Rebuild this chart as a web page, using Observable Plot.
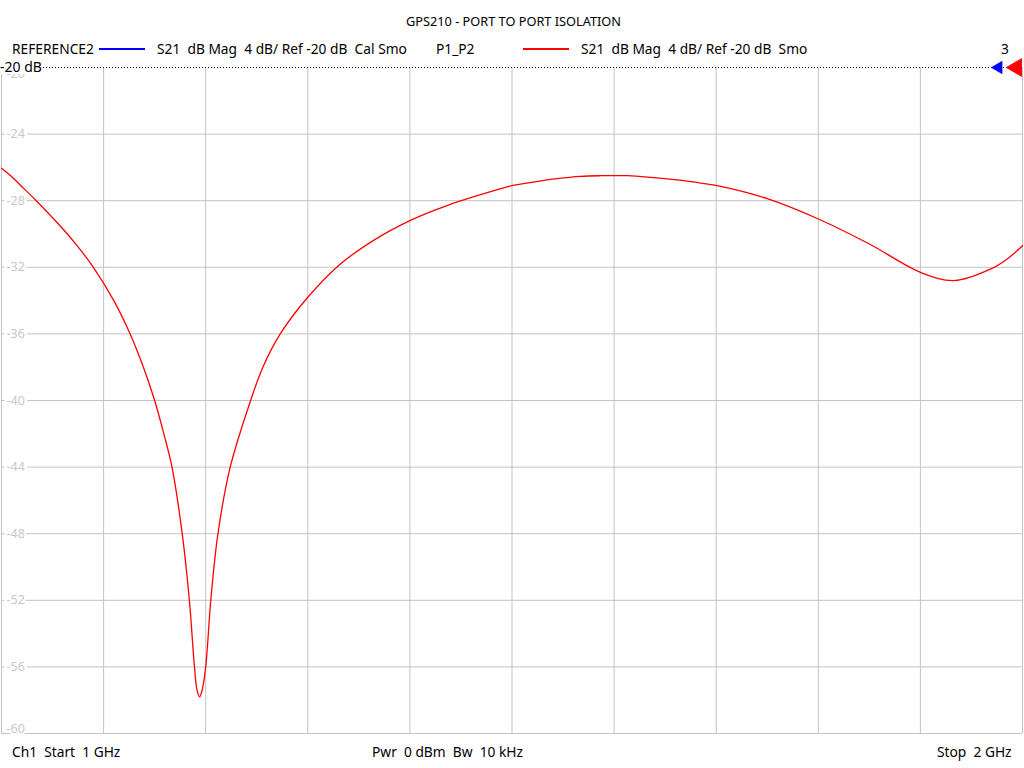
<!DOCTYPE html>
<html>
<head>
<meta charset="utf-8">
<script src="https://cdn.jsdelivr.net/npm/d3@7"></script>
<script src="https://cdn.jsdelivr.net/npm/@observablehq/plot@0.6"></script>
<style>
  body { margin: 0; background: #fff; }
  #wrap { position: relative; width: 1024px; height: 768px; overflow: hidden; font-family: "Noto Sans", "Open Sans", sans-serif; }
  #wrap svg { position: absolute; left: 0; top: 0; }
  .t { position: absolute; white-space: pre; font-size: 13.75px; line-height: 1; color: #000; }
  .leg { position: absolute; height: 2px; width: 46px; }
</style>
</head>
<body>
<div id="wrap"></div>
<script>
// Frequency (GHz) and S21 magnitude (dB)
const freqGHz = [1.000, 1.009, 1.019, 1.034, 1.058, 1.074, 1.090, 1.110, 1.126, 1.139, 1.150, 1.159, 1.167, 1.177, 1.184, 1.189, 1.1915, 1.194, 1.1965, 1.200, 1.205, 1.212, 1.224, 1.244, 1.256, 1.273, 1.300, 1.330, 1.364, 1.400, 1.437, 1.489, 1.501, 1.521, 1.544, 1.567, 1.587, 1.613, 1.636, 1.659, 1.685, 1.701, 1.750, 1.800, 1.850, 1.900, 1.933, 1.969, 1.985, 2.000];
const s21dB   = [-26.05, -26.5, -27.1, -28.0, -29.55, -30.7, -32.0, -34.0, -36.0, -38.0, -40.0, -42.0, -44.0, -48.0, -52.0, -56.0, -57.4, -57.8, -57.4, -56.0, -52.0, -48.0, -44.0, -40.0, -38.0, -36.0, -33.8, -31.9, -30.4, -29.2, -28.28, -27.28, -27.08, -26.88, -26.68, -26.54, -26.5, -26.5, -26.6, -26.74, -26.94, -27.1, -27.88, -29.1, -30.6, -32.3, -32.8, -32.1, -31.5, -30.7];

const xGrid = [1.0, 1.1, 1.2, 1.3, 1.4, 1.5, 1.6, 1.7, 1.8, 1.9, 2.0];
const yGrid = [-24, -28, -32, -36, -40, -44, -48, -52, -56, -60];
const yLabelsMid = [-24, -28, -32, -36, -40, -44, -48, -52, -56];
const yLabelTop = [-20];
const yLabelBottom = [-60];
const refLevel = [-20];

const trace = freqGHz.map((f, i) => ({f, db: s21dB[i]}));
const gridCol = "#c3c3c3";
const labCol = "#c8c8c8";

const chart = Plot.plot({
  width: 1024,
  height: 768,
  marginLeft: 1,
  marginRight: 2,
  marginTop: 67,
  marginBottom: 35,
  x: {domain: [1, 2], axis: null},
  y: {domain: [-60, -20], axis: null},
  style: {background: "#fff", overflow: "visible", fontFamily: "Noto Sans, sans-serif"},
  marks: [
    Plot.ruleX(xGrid, {x: d => d, stroke: gridCol, strokeWidth: 1}),
    Plot.ruleY(yGrid, {y: d => d, stroke: gridCol, strokeWidth: 1}),
    Plot.text(yLabelsMid, {y: d => d, x: 1, dx: 5, text: d => String(d), textAnchor: "start", fill: labCol, stroke: "#fff", strokeWidth: 5, fontSize: 12.5}),
    Plot.text(yLabelTop, {y: d => d, x: 1, dx: 5, dy: 2, lineAnchor: "top", text: d => String(d), textAnchor: "start", fill: labCol, fontSize: 12.5}),
    Plot.text(yLabelBottom, {y: d => d, x: 1, dx: 5, dy: -1, lineAnchor: "bottom", text: d => String(d), textAnchor: "start", fill: labCol, stroke: "#fff", strokeWidth: 4, fontSize: 12.5}),
    Plot.ruleY(refLevel, {y: d => d, stroke: "#000", strokeWidth: 1, strokeDasharray: "1,2"}),
    Plot.line(trace, {x: "f", y: "db", stroke: "#ff0000", strokeWidth: 1.3, curve: "catmull-rom"}),
    Plot.dot(refLevel, {y: d => d, frameAnchor: "right", dx: -24, symbol: "triangle", rotate: -90, r: 5, fill: "#0000ff", stroke: "none"}),
    Plot.dot(refLevel, {y: d => d, frameAnchor: "right", dx: -6, symbol: "triangle", rotate: -90, r: 7, fill: "#ff0000", stroke: "none"})
  ]
});

const wrap = document.getElementById("wrap");
wrap.appendChild(chart);

function addText(txt, left, top, extra) {
  const d = document.createElement("div");
  d.className = "t";
  d.textContent = txt;
  d.style.left = left + "px";
  d.style.top = top + "px";
  if (extra) Object.assign(d.style, extra);
  wrap.appendChild(d);
  return d;
}
function addLeg(color, left, top) {
  const d = document.createElement("div");
  d.className = "leg";
  d.style.background = color;
  d.style.left = left + "px";
  d.style.top = top + "px";
  wrap.appendChild(d);
}

const title = "GPS210 - PORT TO PORT ISOLATION";
addText(title, 0, 15, {width: "1027px", textAlign: "center", fontSize: "12.75px"});
addText("REFERENCE2", 12, 42);
addLeg("#0000ff", 99, 48);
addText("S21  dB Mag  4 dB/ Ref -20 dB  Cal Smo", 157, 42);
addText("P1_P2", 436, 42);
addLeg("#ff0000", 523, 48);
addText("S21  dB Mag  4 dB/ Ref -20 dB  Smo", 581, 42);
addText("3", 1001, 42);
addText("-20 dB", 0, 60, {fontSize: "14px", background: "#fff", paddingRight: "1px"});
addText("Ch1  Start  1 GHz", 12, 745);
addText("Pwr  0 dBm  Bw  10 kHz", 372, 745);
addText("Stop  2 GHz", 937, 745);
</script>
</body>
</html>
